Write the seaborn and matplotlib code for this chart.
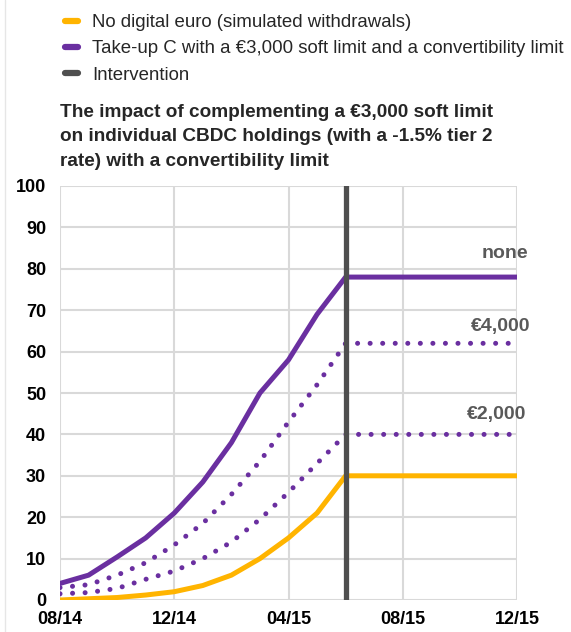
import matplotlib
matplotlib.use("Agg")
import matplotlib.pyplot as plt
from matplotlib.lines import Line2D
import seaborn as sns
import pandas as pd
import numpy as np

# ---- data ----
months = ["08/14", "09/14", "10/14", "11/14", "12/14", "01/15", "02/15", "03/15",
          "04/15", "05/15", "06/15", "07/15", "08/15", "09/15", "10/15", "11/15", "12/15"]
tick_labels = ["08/14", "12/14", "04/15", "08/15", "12/15"]
no_digital_euro = [0, 0.3, 0.6, 1.2, 2, 3.5, 6, 10, 15, 21, 30, 30, 30, 30, 30, 30, 30]
takeup_none = [4, 6, 10.4, 15, 21, 28.5, 38, 50, 58, 69, 78, 78, 78, 78, 78, 78, 78]
takeup_4000 = [3, 3.7, 6, 9, 13.3, 18.5, 25.5, 33.5, 43, 52, 62, 62, 62, 62, 62, 62, 62]
takeup_2000 = [1.5, 1.8, 2.8, 5, 7, 10, 14, 19.5, 26, 33, 40, 40, 40, 40, 40, 40, 40]
intervention_month = "06/15"
labels = ["none", "€4,000", "€2,000"]

sns.set_theme(style="white")
plt.rcParams['font.family'] = ['Liberation Sans', 'DejaVu Sans']

YELLOW = "#FFB400"
PURPLE = "#6A2FA0"
GRAY = "#4F4F4F"
TXT = "#595959"

x = np.arange(len(months))
df = pd.DataFrame({"x": x, "no": no_digital_euro, "none": takeup_none,
                   "k4": takeup_4000, "k2": takeup_2000})

W, H = 571, 632
fig = plt.figure(figsize=(W / 100, H / 100), dpi=100)
ax = fig.add_axes([60 / W, (H - 600) / H, (517 - 60) / W, (600 - 186) / H])

sns.lineplot(data=df, x="x", y="no", ax=ax, color=YELLOW, lw=3.6, zorder=3)
sns.lineplot(data=df, x="x", y="none", ax=ax, color=PURPLE, lw=3.6, zorder=3)
for col in ["k4", "k2"]:
    sns.lineplot(data=df, x="x", y=col, ax=ax, color=PURPLE, lw=3.6, zorder=3)
    ln = ax.lines[-1]
    ln.set_linestyle((0, (0.01, 2.5)))
    ln.set_dash_capstyle("round")

xi = months.index(intervention_month)
ax.axvline(xi, color=GRAY, lw=3.8, zorder=4)

ax.set_xlim(0, len(months) - 1)
ax.set_ylim(0, 100)
ax.set_xticks([months.index(t) for t in tick_labels])
ax.set_xticklabels(tick_labels)
ax.set_yticks(np.arange(0, 101, 10))
ax.set_xlabel("")
ax.set_ylabel("")
ax.grid(True, color="#d9d9d9", lw=1.5, zorder=0)
ax.set_axisbelow(True)
for s in ax.spines.values():
    s.set_visible(False)
ax.tick_params(axis="both", length=0, labelsize=13, colors="black")
ax.tick_params(axis="y", pad=10)
ax.tick_params(axis="x", pad=8)
for t in ax.get_xticklabels() + ax.get_yticklabels():
    t.set_fontweight("bold")

# annotations
ann_y = [83.8, 66.0, 44.7]
ann_x = [528, 530, 526]
for lab, yy, xx in zip(labels, ann_y, ann_x):
    xd = (xx - 60) / (517 - 60) * (len(months) - 1)
    ax.text(xd, yy, lab, ha="right", va="center", fontsize=14, fontweight="bold",
            color=TXT, clip_on=False)

# title
fig.text(60 / W, 1 - 104 / H,
         "The impact of complementing a €3,000 soft limit\n"
         "on individual CBDC holdings (with a -1.5% tier 2\n"
         "rate) with a convertibility limit",
         ha="left", va="top", fontsize=13.7, fontweight="bold", linespacing=1.56)

# legend
handles = [Line2D([], [], color=YELLOW, lw=4.5),
           Line2D([], [], color=PURPLE, lw=4.5),
           Line2D([], [], color=GRAY, lw=4.5)]
leg_labels = ["No digital euro (simulated withdrawals)",
              "Take-up C with a €3,000 soft limit and a convertibility limit",
              "Intervention"]
fig.legend(handles, leg_labels, loc="upper left", bbox_to_anchor=(52 / W, 1 - 1 / H),
           frameon=False, fontsize=13.4, handlelength=0.72, handletextpad=0.72,
           labelspacing=0.5, borderpad=0.2)

fig.add_artist(Line2D([5 / W, 5 / W], [0, 1], color="#e6e6e6", lw=1.0,
                      transform=fig.transFigure))

fig.savefig("out.png", dpi=100)
